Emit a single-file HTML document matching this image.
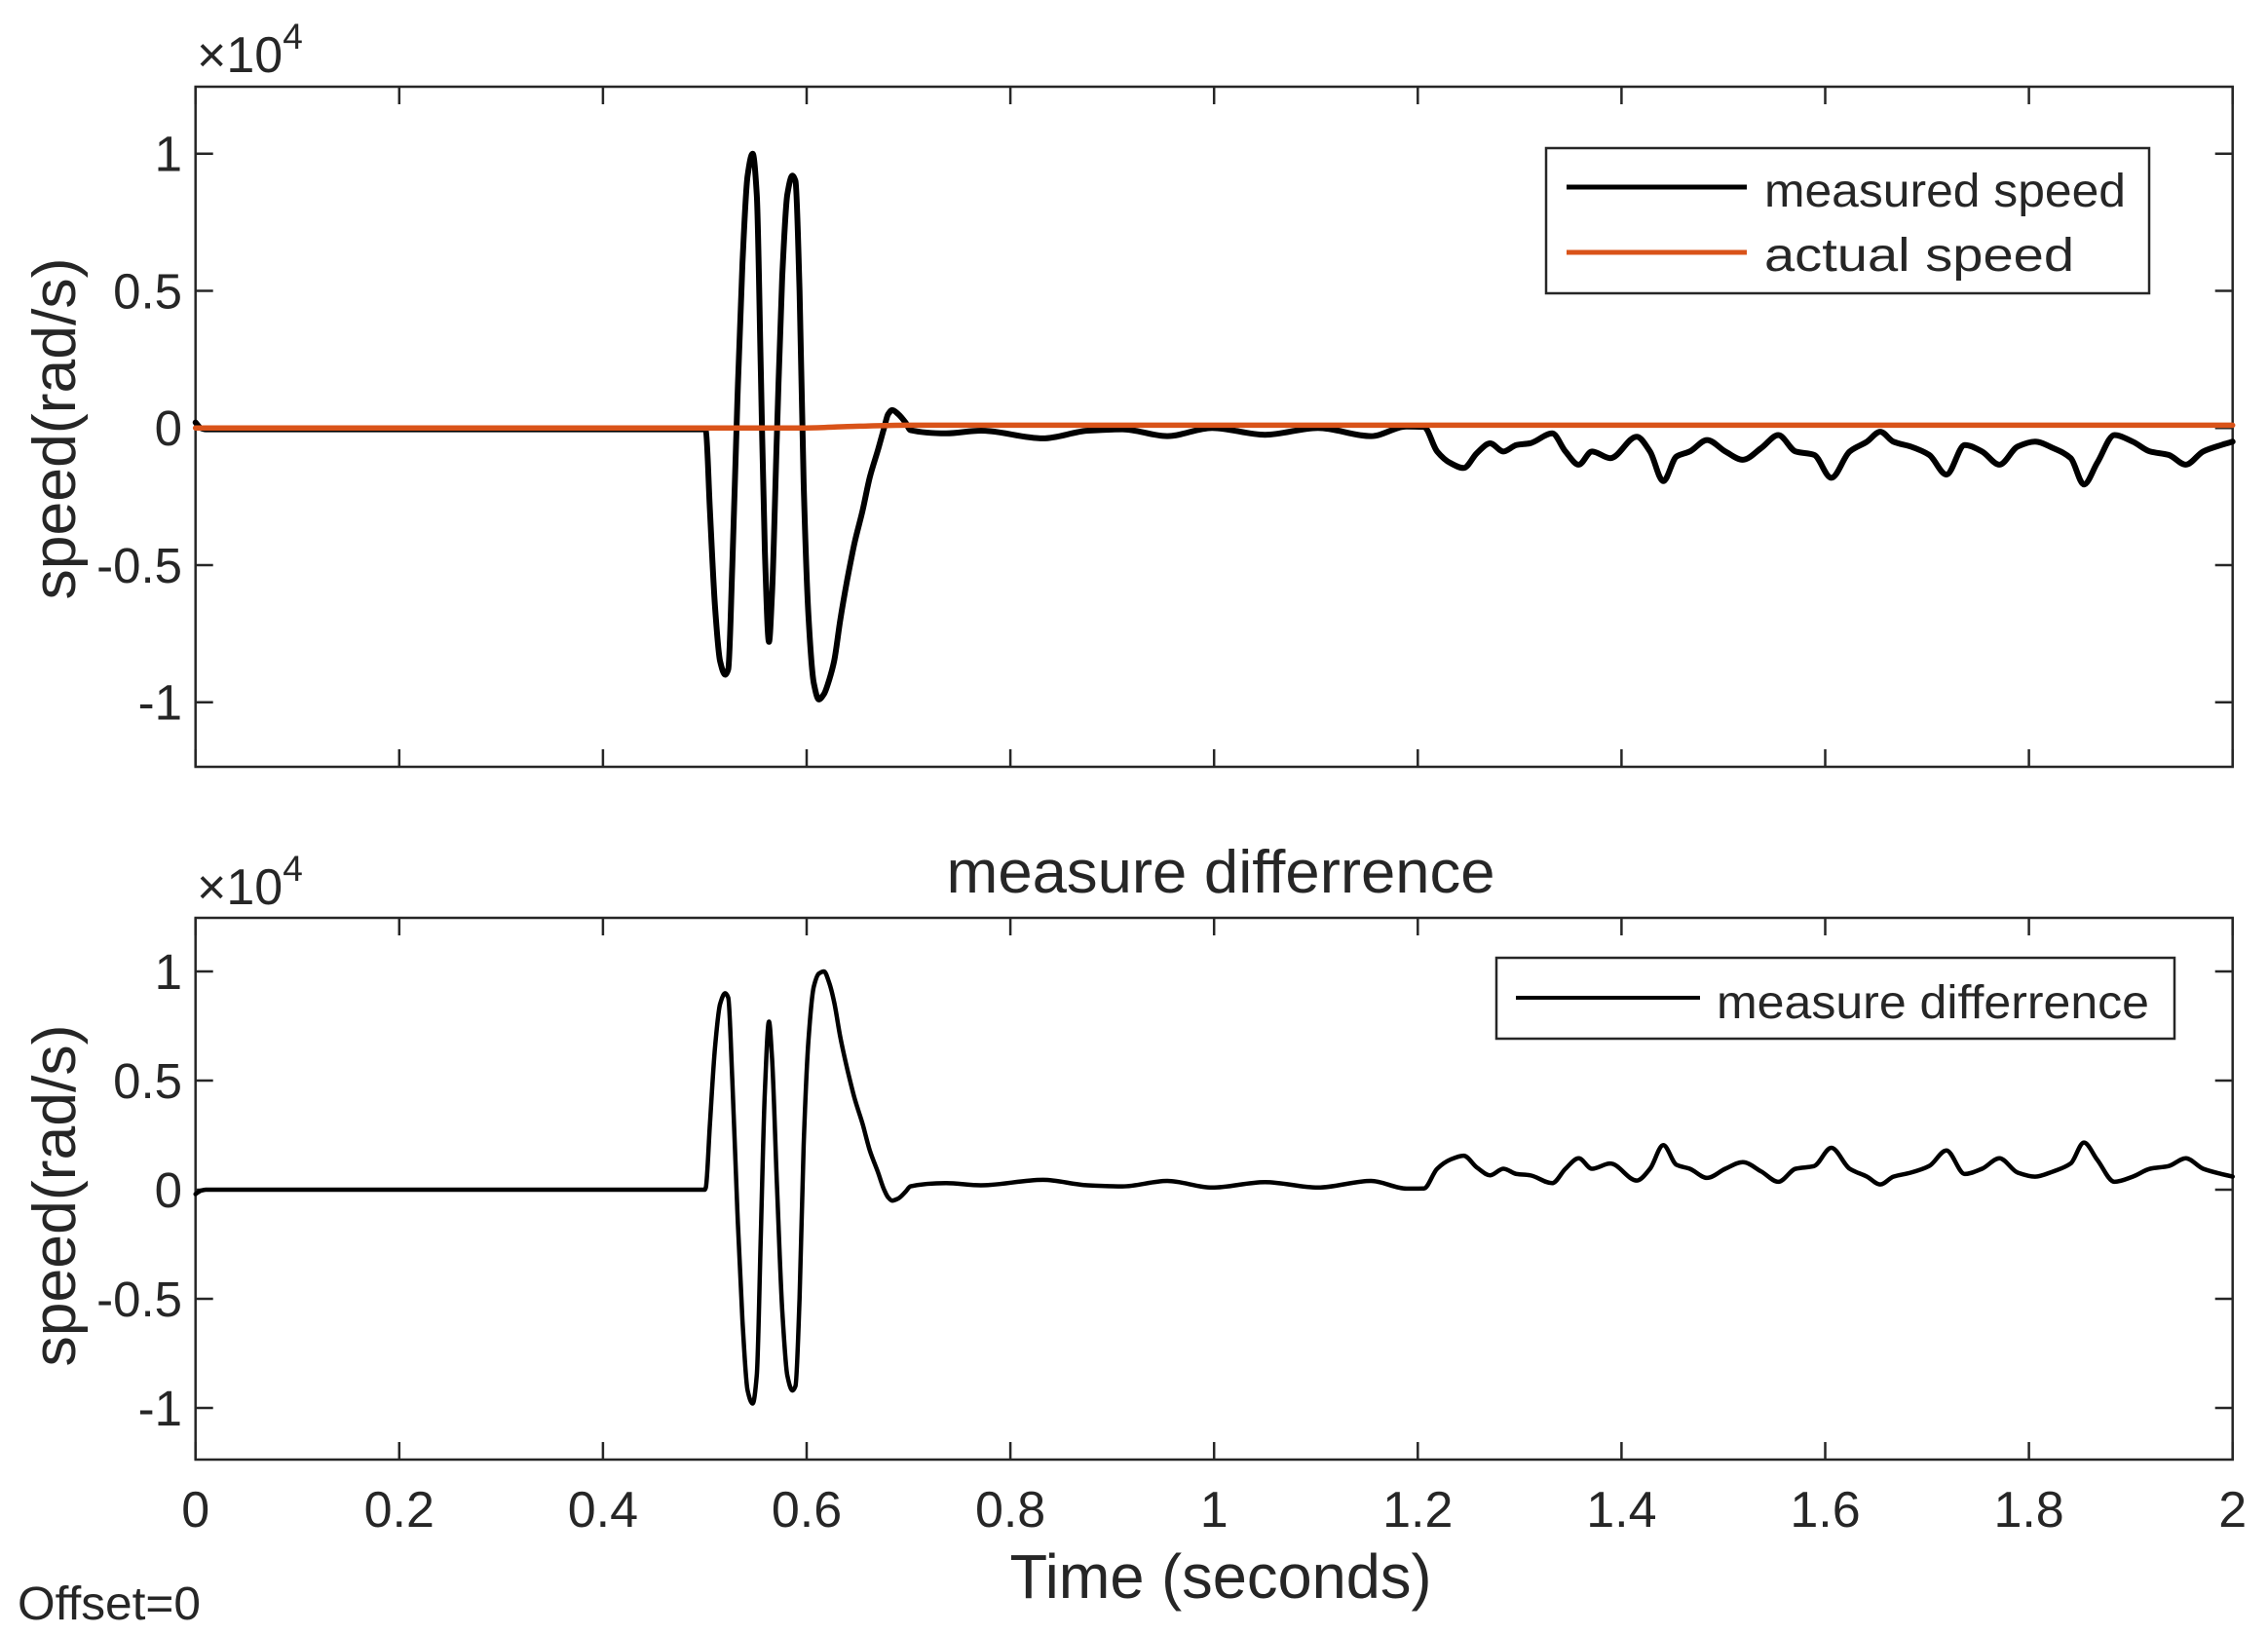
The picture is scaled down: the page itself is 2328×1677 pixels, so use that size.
<!DOCTYPE html>
<html><head><meta charset="utf-8"><style>
html,body{margin:0;padding:0;background:#fff}
svg{display:block}
text{font-family:"Liberation Sans",Arial,sans-serif;fill:#262626}
</style></head><body>
<svg id="fig" width="2328" height="1677" viewBox="0 0 2328 1677" xmlns="http://www.w3.org/2000/svg">
<rect width="2328" height="1677" fill="#fff"/>
<g id="top"></g>
<g id="bot"></g>
<text x="202" y="74" font-size="52" fill="#444">×10<tspan font-size="37" dy="-24">4</tspan></text>
<text x="202" y="928" font-size="52" fill="#444">×10<tspan font-size="37" dy="-24">4</tspan></text>
<text x="1253" y="916" font-size="62" text-anchor="middle" textLength="563" lengthAdjust="spacingAndGlyphs">measure differrence</text>
<text x="1253" y="1640" font-size="64" text-anchor="middle" textLength="433" lengthAdjust="spacingAndGlyphs">Time (seconds)</text>
<text x="18" y="1662" font-size="48" textLength="188" lengthAdjust="spacingAndGlyphs">Offset=0</text>
<text transform="translate(77,440) rotate(-90)" font-size="62" text-anchor="middle" textLength="351" lengthAdjust="spacingAndGlyphs">speed(rad/s)</text>
<text transform="translate(77,1227) rotate(-90)" font-size="62" text-anchor="middle" textLength="351" lengthAdjust="spacingAndGlyphs">speed(rad/s)</text>
</svg>
<script>
// ---- data (units of 1e4 rad/s) ----
const timeS = [0,0.005,0.01,0.5,0.501,0.505,0.51,0.515,0.52,0.523,0.527,0.532,0.537,0.542,0.547,0.551,0.555,0.559,0.563,0.566,0.571,0.576,0.581,0.586,0.589,0.593,0.597,0.602,0.607,0.612,0.617,0.622,0.627,0.633,0.64,0.647,0.655,0.662,0.67,0.676,0.68,0.684,0.69,0.697,0.702,0.737,0.771,0.832,0.876,0.91,0.954,0.998,1.05,1.102,1.154,1.189,
1.206,1.219,1.232,1.245,1.258,1.271,1.284,1.297,1.310,1.332,1.345,1.358,1.371,1.389,1.415,1.428,1.441,1.454,1.467,1.484,1.502,1.519,1.537,1.554,1.571,1.589,1.606,1.624,1.641,1.654,1.667,1.684,1.702,1.719,1.737,1.754,1.771,1.789,1.806,1.824,1.841,1.854,1.867,1.884,1.902,1.919,1.937,1.954,1.971,1.989,2.0];
const measuredSpeed = [0.02,0,-0.005,-0.005,-0.01,-0.3,-0.65,-0.85,-0.9,-0.88,-0.5,0.1,0.6,0.92,1.0,0.85,0.2,-0.45,-0.78,-0.6,0.0,0.55,0.85,0.92,0.9,0.5,-0.2,-0.7,-0.93,-0.99,-0.97,-0.92,-0.85,-0.7,-0.55,-0.42,-0.3,-0.18,-0.08,0,0.05,0.065,0.05,0.02,-0.008,-0.02,-0.01,-0.038,-0.01,-0.005,-0.03,0,-0.025,0,-0.03,0.005,
0.004,-0.086,-0.128,-0.146,-0.092,-0.056,-0.086,-0.062,-0.056,-0.020,-0.086,-0.134,-0.086,-0.110,-0.032,-0.086,-0.194,-0.104,-0.086,-0.044,-0.086,-0.116,-0.074,-0.026,-0.086,-0.098,-0.182,-0.086,-0.050,-0.014,-0.050,-0.068,-0.098,-0.170,-0.062,-0.086,-0.134,-0.068,-0.050,-0.074,-0.110,-0.206,-0.128,-0.026,-0.050,-0.086,-0.098,-0.134,-0.086,-0.062,-0.050];
const actualTime = [0,0.6,0.64,0.7,2.0];
const actualSpeed = [0,0,0.005,0.01,0.01];
const measureDiff = [-0.02,-0.005,0,0,0.01,0.3,0.65,0.85,0.9,0.88,0.5,-0.1,-0.6,-0.92,-0.98,-0.85,-0.2,0.45,0.77,0.6,0.0,-0.55,-0.85,-0.92,-0.9,-0.5,0.2,0.7,0.93,0.99,1.0,0.95,0.86,0.7,0.55,0.42,0.3,0.18,0.08,0,-0.035,-0.05,-0.04,-0.01,0.015,0.03,0.02,0.045,0.02,0.015,0.04,0.01,0.035,0.01,0.04,0.005,
0.006,0.096,0.138,0.156,0.102,0.066,0.096,0.072,0.066,0.030,0.096,0.144,0.096,0.120,0.042,0.096,0.204,0.114,0.096,0.054,0.096,0.126,0.084,0.036,0.096,0.108,0.192,0.096,0.060,0.024,0.060,0.078,0.108,0.180,0.072,0.096,0.144,0.078,0.060,0.084,0.120,0.216,0.138,0.036,0.060,0.096,0.108,0.144,0.096,0.072,0.060];
const xTicks = [0,0.2,0.4,0.6,0.8,1,1.2,1.4,1.6,1.8,2];
const xTickLabels = ["0","0.2","0.4","0.6","0.8","1","1.2","1.4","1.6","1.8","2"];
const yTicks = [-1,-0.5,0,0.5,1];
const yTickLabels = ["-1","-0.5","0","0.5","1"];

const NS="http://www.w3.org/2000/svg";
const X0=200.7, X1=2291.7;
function xS(t){return X0+(t/2)*(X1-X0);}
const axTop={g:document.getElementById('top'),top:89,bot:787,y:v=>439.2-v*281.5};
const axBot={g:document.getElementById('bot'),top:942,bot:1498,y:v=>1221-v*224};
function mk(tag,attrs,parent){const e=document.createElementNS(NS,tag);for(const k in attrs)e.setAttribute(k,attrs[k]);parent.appendChild(e);return e;}

function drawAxes(ax,showX,prefix){
  const box=mk('rect',{x:X0,y:ax.top,width:X1-X0,height:ax.bot-ax.top,fill:'none',stroke:'#262626','stroke-width':2.5},ax.g);
  
  
  xTicks.forEach((t,i)=>{
    const x=xS(t);
    const a=mk('line',{x1:x,x2:x,y1:ax.bot,y2:ax.bot-18,stroke:'#262626','stroke-width':2.5},ax.g);
    
    
    const b=mk('line',{x1:x,x2:x,y1:ax.top,y2:ax.top+18,stroke:'#262626','stroke-width':2.5},ax.g);
    
    
    if(showX){
      const tx=mk('text',{x:x,y:1567,'font-size':52,'text-anchor':'middle'},ax.g);
      tx.textContent=xTickLabels[i];
      
      
    }
  });
  yTicks.forEach((v,i)=>{
    const y=ax.y(v);
    const a=mk('line',{x1:X0,x2:X0+18,y1:y,y2:y,stroke:'#262626','stroke-width':2.5},ax.g);
    
    
    const b=mk('line',{x1:X1,x2:X1-18,y1:y,y2:y,stroke:'#262626','stroke-width':2.5},ax.g);
    
    
    const tx=mk('text',{x:187,y:y+18,'font-size':51,'text-anchor':'end'},ax.g);
    tx.textContent=yTickLabels[i];
    
    
  });
}
// monotone cubic (Fritsch-Carlson) path through data points
function line(ax,ts,vs,color,w,name){
  const X=ts.map(xS), Y=vs.map(ax.y), n=X.length;
  const dx=[],s=[];
  for(let i=0;i<n-1;i++){dx.push(X[i+1]-X[i]);s.push((Y[i+1]-Y[i])/(X[i+1]-X[i]));}
  const m=new Array(n);
  m[0]=s[0];m[n-1]=s[n-2];
  for(let i=1;i<n-1;i++){
    if(s[i-1]*s[i]<=0) m[i]=0;
    else {const w1=2*dx[i]+dx[i-1],w2=dx[i]+2*dx[i-1];m[i]=(w1+w2)/(w1/s[i-1]+w2/s[i]);}
  }
  let d='M'+X[0].toFixed(1)+','+Y[0].toFixed(1);
  for(let i=0;i<n-1;i++){
    const h=dx[i]/3;
    d+='C'+(X[i]+h).toFixed(1)+','+(Y[i]+m[i]*h).toFixed(1)+' '+(X[i+1]-h).toFixed(1)+','+(Y[i+1]-m[i+1]*h).toFixed(1)+' '+X[i+1].toFixed(1)+','+Y[i+1].toFixed(1);
  }
  const p=mk('path',{d:d,fill:'none',stroke:color,'stroke-width':w,'stroke-linejoin':'round','stroke-linecap':'round'},ax.g);
  
  
}
drawAxes(axTop,false,'top');
drawAxes(axBot,true,'bottom');
line(axTop,timeS,measuredSpeed,'#000',6,'measured-speed-line');
line(axTop,actualTime,actualSpeed,'#D95319',5.5,'actual-speed-line');
line(axBot,timeS,measureDiff,'#000',4.5,'measure-difference-line');

// legends
function legend(g,box,items,name){
  const lg=mk('g',{},g);
  
  
  mk('rect',{x:box[0],y:box[1],width:box[2],height:box[3],fill:'#fff',stroke:'#262626','stroke-width':2.5},lg);
  items.forEach(it=>{
    const l=mk('line',{x1:it.x1,x2:it.x2,y1:it.y,y2:it.y,stroke:it.c,'stroke-width':it.w},lg);
    
    
    const t=mk('text',{x:it.tx,y:it.ty,'font-size':48,textLength:it.tl,lengthAdjust:'spacingAndGlyphs'},lg);
    t.textContent=it.label;
    
    
  });
}
legend(axTop.g,[1587,152,619,149],[
  {x1:1608,x2:1793,y:192,c:'#000',w:5,tx:1811,ty:212,tl:371,label:'measured speed'},
  {x1:1608,x2:1793,y:259,c:'#D95319',w:5,tx:1811,ty:278,tl:318,label:'actual speed'}],'top-legend');
legend(axBot.g,[1536,983,696,83],[
  {x1:1556,x2:1745,y:1024,c:'#000',w:4,tx:1762,ty:1045,tl:444,label:'measure differrence'}],'bottom-legend');
</script>
</body></html>
